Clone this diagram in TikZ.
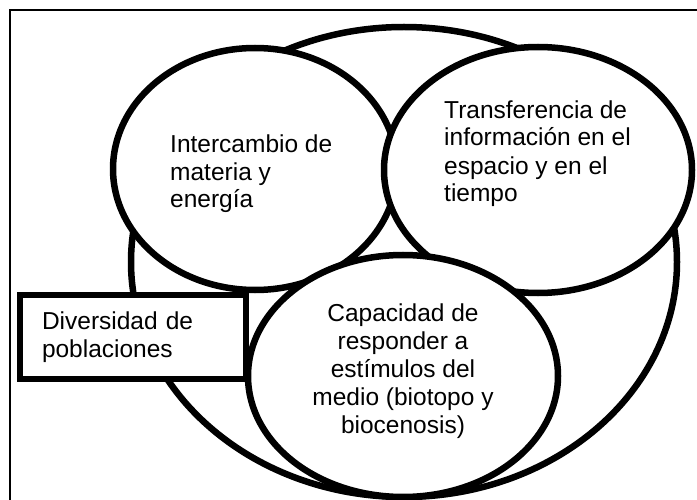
\documentclass[tikz,border=0pt]{standalone}
\usepackage{fontspec}
\setmainfont{Liberation Sans}
\usetikzlibrary{shapes.geometric}
\tikzset{
  blob/.style={ellipse, draw, fill=white, line width=6.5pt, inner sep=0pt},
  blurb/.style={inner sep=0pt, font=\fontsize{24.5}{28}\selectfont},
  tag/.style={rectangle, draw, fill=white, line width=6.5pt, blurb,
    inner xsep=22pt, text width=182pt, align=left,
    minimum width=226pt, minimum height=84pt},
  frame line/.style={line width=1.2pt},
}

\begin{document}
\begin{tikzpicture}[x=1pt,y=-1pt]
  \useasboundingbox (0,0) rectangle (697,500);
  \clip (0,0) rectangle (697,500);

  % Frame
  \draw[frame line] (10,520) |- (720,10);

  % Ellipses
  \node[blob, minimum width=546pt, minimum height=470pt] (whole) at (404,262) {};
  \node[blob, minimum width=284pt, minimum height=242pt] (exchange) at (255,169) {};
  \node[blob, minimum width=308pt, minimum height=246pt] (transfer) at (538,170) {};
  \node[blob, minimum width=310pt, minimum height=242pt] (response) at (403,376) {};

  % Texts (base = last line)
  \node[blurb, anchor=base west, align=left] (exchange-txt) at (170,208)
    {Intercambio de\\materia y\\energía};
  \node[blurb, anchor=base west, align=left] (transfer-txt) at (444,202)
    {Transferencia de\\información en el\\espacio y en el\\tiempo};
  \node[blurb, anchor=base, align=center] (response-txt) at (403,433)
    {Capacidad de\\responder a\\estímulos del\\medio (biotopo y\\biocenosis)};

  % Box
  \node[tag] (populations) at (133,337) {Diversidad de\\poblaciones};
\end{tikzpicture}
\end{document}
